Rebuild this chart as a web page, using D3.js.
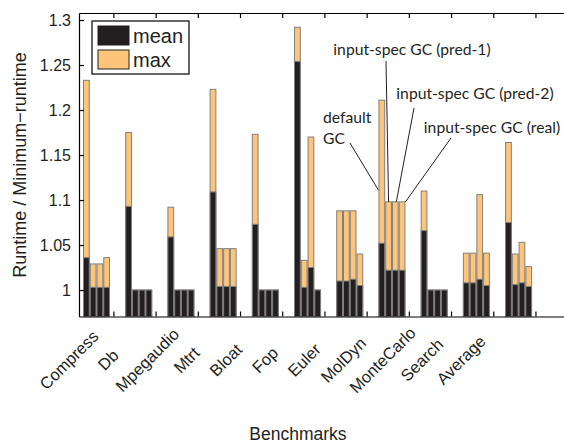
<!DOCTYPE html>
<html>
<head>
<meta charset="utf-8">
<script src="https://cdn.jsdelivr.net/npm/d3@7"></script>
<style>
body { margin: 0; background: #fff; }
text { fill: #231f20; }
</style>
</head>
<body>
<svg class="main" width="564" height="444"></svg>
<script>
var benchmarks = ["Compress", "Db", "Mpegaudio", "Mtrt", "Bloat", "Fop", "Euler", "MolDyn", "MonteCarlo", "Search", "Average"];
var configs = ["default GC", "input-spec GC (pred-1)", "input-spec GC (pred-2)", "input-spec GC (real)"];

// one row per benchmark, one column per GC config
var meanValues = [
    [1.036, 1.003, 1.003, 1.003],
    [1.093, 1.0, 1.0, 1.0],
    [1.059, 1.0, 1.0, 1.0],
    [1.109, 1.004, 1.004, 1.004],
    [1.073, 1.0, 1.0, 1.0],
    [1.254, 1.003, 1.025, 1.0],
    [1.010, 1.010, 1.012, 1.005],
    [1.052, 1.022, 1.022, 1.022],
    [1.066, 1.0, 1.0, 1.0],
    [1.008, 1.008, 1.012, 1.005],
    [1.075, 1.006, 1.008, 1.004]
];
var maxValues = [
    [1.233, 1.029, 1.029, 1.036],
    [1.175, 1.0, 1.0, 1.0],
    [1.092, 1.0, 1.0, 1.0],
    [1.223, 1.046, 1.046, 1.046],
    [1.173, 1.0, 1.0, 1.0],
    [1.292, 1.033, 1.170, 1.0],
    [1.088, 1.088, 1.088, 1.040],
    [1.211, 1.098, 1.098, 1.098],
    [1.110, 1.0, 1.0, 1.0],
    [1.041, 1.041, 1.106, 1.041],
    [1.164, 1.040, 1.053, 1.026]
];
var yTicks = [1, 1.05, 1.1, 1.15, 1.2, 1.25, 1.3];
var legendLabels = ["mean", "max"];

var colors = {
    mean: "#231f20",
    max: "#fdc57a",
    edge: "#7f7f7f"
};

var svg = d3.select(".main"),
    plot = {left: 79, right: 565, top: 13, bottom: 316.5},
    barUnit = 0.16,
    font = "'Liberation Sans', Arimo, Arial, sans-serif",
    noteFont = "Lato, 'Noto Sans', sans-serif";

var x = d3.scaleLinear()
    .domain([-0.415, 11.1])
    .range([plot.left, plot.right]);

var y = d3.scaleLinear()
    .domain([0.9706, 1.3078])
    .range([plot.bottom, plot.top]);

// rotated tick labels sit on their own spacing
var labelX = d3.scaleLinear()
    .domain([0, benchmarks.length - 1])
    .range([69, 461]);

var barW = x(barUnit) - x(0);

function barCenter(i, j) {
    return x(i + (j - 1.5) * barUnit);
}

var rows = [];
benchmarks.forEach(function(b, i) {
    configs.forEach(function(c, j) {
        rows.push({i: i, j: j, mean: meanValues[i][j], max: maxValues[i][j]});
    });
});

/**
 * Bars: max underneath, mean over it
 */
var bars = svg.append("g");

bars.selectAll(".max")
    .data(rows)
    .enter()
    .append("rect")
    .attr("x", function(d) { return barCenter(d.i, d.j) - barW / 2 + 0.5; })
    .attr("width", barW - 1)
    .attr("y", function(d) { return y(d.max); })
    .attr("height", function(d) { return plot.bottom - y(d.max); })
    .attr("fill", colors.max)
    .attr("stroke", colors.edge)
    .attr("stroke-width", 1);

bars.selectAll(".mean")
    .data(rows)
    .enter()
    .append("rect")
    .attr("x", function(d) { return barCenter(d.i, d.j) - barW / 2 + 0.5; })
    .attr("width", barW - 1)
    .attr("y", function(d) { return y(d.mean); })
    .attr("height", function(d) { return plot.bottom - y(d.mean); })
    .attr("fill", colors.mean)
    .attr("stroke", colors.edge)
    .attr("stroke-width", 1);

/**
 * Axes
 */
var tickPos = benchmarks.map(function(b, i) { return i + 0.4; });

svg.append("g")
    .attr("transform", "translate(" + plot.left + ",0)")
    .call(d3.axisLeft(y).tickValues(yTicks).tickFormat(d3.format("")).tickSizeInner(-5).tickSizeOuter(0).tickPadding(8))
    .call(function(g) {
        g.selectAll("text").style("font-family", font).style("font-size", "16px").attr("fill", "#231f20");
    });

svg.append("g")
    .attr("transform", "translate(0," + plot.bottom + ")")
    .call(d3.axisBottom(x).tickValues(tickPos).tickFormat("").tickSizeInner(-5).tickSizeOuter(0));

svg.append("g")
    .attr("transform", "translate(0," + plot.top + ")")
    .call(d3.axisTop(x).tickValues(tickPos).tickFormat("").tickSizeInner(-5).tickSizeOuter(0));

svg.selectAll(".domain, .tick line").attr("stroke", "#000").attr("stroke-width", 1.2);

svg.append("g")
    .selectAll("text")
    .data(benchmarks)
    .enter()
    .append("text")
    .attr("transform", function(d, i) { return "translate(" + labelX(i) + ",360) rotate(-45)"; })
    .attr("text-anchor", "middle")
    .attr("dy", "0.35em")
    .style("font-family", font)
    .style("font-size", "16.5px")
    .text(function(d) { return d; });

svg.append("text")
    .attr("transform", "translate(26,165) rotate(-90)")
    .attr("text-anchor", "middle")
    .style("font-family", font)
    .style("font-size", "18px")
    .text("Runtime / Minimum\u2212runtime");

svg.append("text")
    .attr("x", 298)
    .attr("y", 440)
    .attr("text-anchor", "middle")
    .style("font-family", font)
    .style("font-size", "17.5px")
    .text("Benchmarks");

/**
 * Legend
 */
var legend = svg.append("g").attr("transform", "translate(92,21)");

legend.append("rect")
    .attr("width", 97)
    .attr("height", 53)
    .attr("fill", "#fff")
    .attr("stroke", "#000")
    .attr("stroke-width", 1.2);

legend.selectAll(".sw")
    .data(legendLabels)
    .enter()
    .append("rect")
    .attr("x", 6)
    .attr("y", function(d, i) { return 5 + i * 24; })
    .attr("width", 31)
    .attr("height", 19)
    .attr("fill", function(d) { return colors[d]; })
    .attr("stroke", "#231f20");

legend.selectAll("text")
    .data(legendLabels)
    .enter()
    .append("text")
    .attr("x", 41)
    .attr("y", function(d, i) { return 22 + i * 24; })
    .style("font-family", font)
    .style("font-size", "20px")
    .text(function(d) { return d; });

/**
 * Callouts on MolDyn
 */
var molDyn = benchmarks.indexOf("MolDyn");

var notes = [
    {lines: ["input-spec GC (pred-1)"], tx: 412, ty: 55, from: [386, 61], j: 1, dx: 0, v: maxValues[molDyn][1]},
    {lines: ["input-spec GC (pred-2)"], tx: 475, ty: 99, from: [414, 108], j: 2, dx: 1, v: maxValues[molDyn][2]},
    {lines: ["input-spec GC (real)"], tx: 492, ty: 133, from: [451, 138], j: 3, dx: barW / 2, v: maxValues[molDyn][3]},
    {lines: ["default", "GC"], tx: 323, ty: 123, from: [350, 143], j: 0, dx: -barW / 2, v: 1.111, left: true}
];

var callouts = svg.append("g");

notes.forEach(function(n) {
    callouts.append("line")
        .attr("x1", n.from[0])
        .attr("y1", n.from[1])
        .attr("x2", barCenter(molDyn, n.j) + n.dx)
        .attr("y2", y(n.v))
        .attr("stroke", "#231f20")
        .attr("stroke-width", 1);

    n.lines.forEach(function(t, k) {
        callouts.append("text")
            .attr("x", n.tx)
            .attr("y", n.ty + k * 20.5)
            .attr("text-anchor", n.left ? "start" : "middle")
            .style("font-family", noteFont)
            .style("font-size", "15.7px")
            .text(t);
    });
});
</script>
</body>
</html>
